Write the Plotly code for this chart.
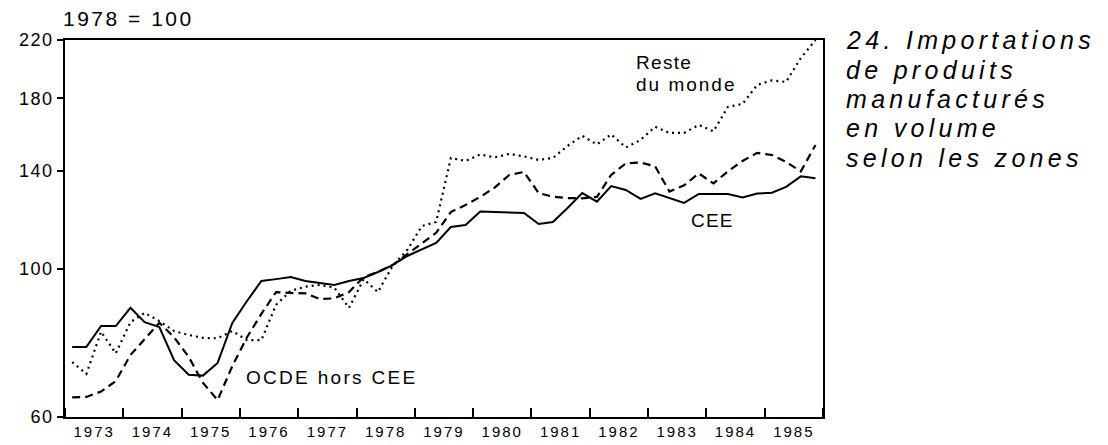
import math
import plotly.graph_objects as go

# quarterly indices, 1978 = 100
years = list(range(1973, 1986))
quarters = [1, 2, 3, 4]

cee = [76.4, 76.4, 82.1, 82.1, 87.4, 83.2, 81.8, 73.0, 69.4, 69.2, 72.3, 83.0,
       89.5, 95.9, 96.5, 97.2, 95.9, 95.2, 94.6, 95.9, 96.9, 98.9, 101.3, 104.5,
       106.9, 109.3, 115.5, 116.3, 121.8, 121.6, 121.5, 121.2, 116.7, 117.5, 123.3, 129.8,
       126.0, 133.0, 131.2, 127.2, 129.7, 127.5, 125.5, 129.4, 129.4, 129.4, 127.9, 129.6,
       130.0, 132.6, 137.5, 136.6]

ocde_hors_cee = [64.2, 64.3, 65.5, 67.9, 74.3, 78.5, 83.0, 79.0, 73.8, 67.5, 63.6, 71.5,
                 79.0, 85.6, 92.3, 92.0, 91.9, 90.1, 90.3, 92.3, 97.2, 98.9, 101.3, 105.2,
                 109.3, 113.2, 121.6, 124.6, 128.1, 132.3, 138.2, 139.6, 129.8, 128.2, 127.6, 127.5,
                 128.1, 138.2, 143.8, 144.2, 142.3, 130.5, 133.3, 138.9, 134.2, 139.9, 145.0, 149.1,
                 148.0, 144.5, 139.9, 153.2]

reste_du_monde = [72.5, 69.6, 80.5, 74.7, 83.2, 85.9, 83.5, 80.7, 79.6, 78.8, 78.7, 80.7,
                  78.2, 78.2, 88.3, 92.7, 94.0, 94.6, 93.7, 87.4, 96.5, 92.3, 101.0, 106.7,
                  115.9, 117.5, 146.5, 145.0, 148.3, 146.8, 148.6, 147.3, 145.5, 146.5, 152.7, 158.1,
                  153.5, 158.9, 151.9, 155.9, 163.1, 159.7, 159.7, 164.2, 160.6, 174.7, 176.5, 188.5,
                  191.4, 190.4, 206.8, 220.0]

y_ticks = [60, 100, 140, 180, 220]

# each quarter plotted at its middle month
x = ["%d-%02d-15" % (yr, 3 * q - 1) for yr in years for q in quarters]

FONT = "Liberation Sans, Arial, sans-serif"


def spaced(txt, ls):
    return "<span style='letter-spacing:%spx'>%s</span>" % (ls, txt)


fig = go.Figure()
fig.add_trace(go.Scatter(x=x, y=reste_du_monde, mode="lines", name="Reste du monde",
                         line=dict(color="black", width=2.2, dash="2px,4px")))
fig.add_trace(go.Scatter(x=x, y=ocde_hors_cee, mode="lines", name="OCDE hors CEE",
                         line=dict(color="black", width=2.2, dash="8px,5px")))
fig.add_trace(go.Scatter(x=x, y=cee, mode="lines", name="CEE",
                         line=dict(color="black", width=2)))

fig.update_layout(
    width=1108, height=445,
    margin=dict(l=65, r=285, t=40, b=28),
    paper_bgcolor="white", plot_bgcolor="white",
    showlegend=False,
    font=dict(family=FONT, color="black"),
)
# year ticks, labels centred on each year
fig.update_xaxes(type="date", range=["%d-01-01" % years[0], "%d-01-01" % (years[-1] + 1)],
                 showline=True, linecolor="black", linewidth=1.5, mirror=True,
                 ticks="inside", tick0="%d-01-01" % years[0], dtick="M12", ticklen=9,
                 tickwidth=1.5, tickcolor="black", ticklabelmode="period",
                 tickformat="<span style='letter-spacing:2px'>%Y</span>",
                 tickfont=dict(size=15, family=FONT), automargin=False,
                 showgrid=False, zeroline=False)
fig.update_yaxes(type="log", range=[math.log10(60), math.log10(220)],
                 tickvals=y_ticks, ticktext=[spaced(str(v), 1.5) for v in y_ticks],
                 ticks="outside", ticklen=6, tickwidth=1.5, tickcolor="black",
                 showline=True, linecolor="black", linewidth=1.5, mirror=True,
                 showgrid=False, zeroline=False, tickfont=dict(size=18, family=FONT),
                 automargin=False)

anns = [
    ("1978 = 100", -0.004, 1.058, 21, 2.5),
    ("Reste", 0.752, 0.939, 19, 1.3),
    ("du monde", 0.752, 0.883, 19, 2),
    ("CEE", 0.8245, 0.5225, 19, 1.2),
    ("OCDE hors CEE", 0.2375, 0.106, 19, 2.3),
]
for txt, ax, ay, size, ls in anns:
    fig.add_annotation(text=spaced(txt, ls), x=ax, y=ay, xref="paper", yref="paper",
                       xanchor="left", yanchor="middle", showarrow=False,
                       font=dict(size=size, family=FONT), borderpad=0)

title_lines = ["24. Importations", "de produits", "manufacturés", "en volume", "selon les zones"]
title_y = [1.0, 0.921, 0.844, 0.767, 0.687]
for t, ty in zip(title_lines, title_y):
    fig.add_annotation(text=spaced(t, 4.3), x=1.029, y=ty, xref="paper", yref="paper",
                       xanchor="left", yanchor="middle", showarrow=False, borderpad=0,
                       font=dict(size=25, family=FONT, style="italic"))

fig.write_html("out.html", config={"displayModeBar": False},
               post_script="document.body.style.margin='0';")
